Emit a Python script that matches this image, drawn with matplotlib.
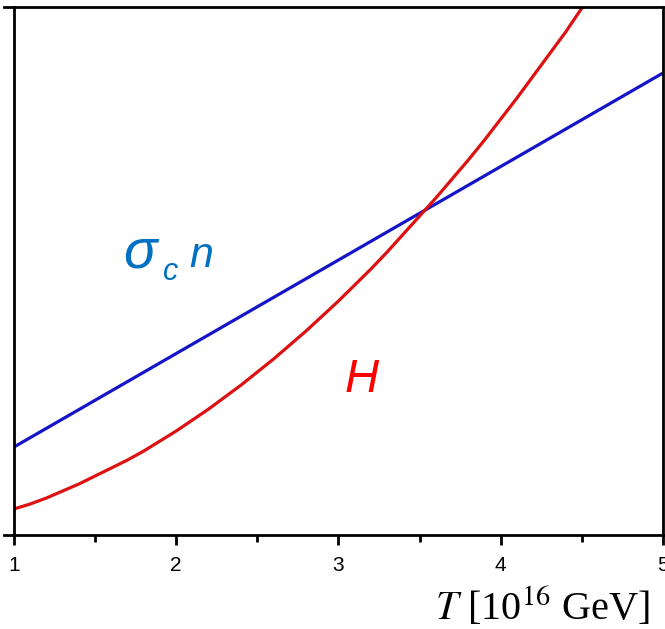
import numpy as np
import matplotlib
matplotlib.use("Agg")
import matplotlib.pyplot as plt
from matplotlib.lines import Line2D

plt.rcParams['mathtext.fontset'] = 'stix'
plt.rcParams['font.family'] = ['Liberation Sans', 'DejaVu Sans']
plt.rcParams['xtick.labelsize'] = 15

# values (arbitrary vertical units)
T = [1.0, 1.1, 1.2, 1.3, 1.4, 1.5, 1.6, 1.7, 1.8, 1.9,
     2.0, 2.1, 2.2, 2.3, 2.4, 2.5, 2.6, 2.7, 2.8, 2.9,
     3.0, 3.1, 3.2, 3.3, 3.4, 3.5, 3.6, 3.7, 3.8, 3.9,
     4.0, 4.1, 4.2, 4.3, 4.4, 4.5, 4.6]
H = [26, 31, 37, 44, 51, 59, 67, 75, 84, 94,
     104, 115, 126, 138, 150, 163, 176, 190, 204, 219,
     234, 250, 266, 283, 301, 319, 337, 356, 375, 395,
     416, 437, 459, 481, 503, 527, 550]
T_line = [1.0, 5.0]
sigma_n = [88, 462]
xticks = [1, 2, 3, 4, 5]

fig = plt.figure(figsize=(6.65, 6.29), dpi=100)
ax = fig.add_axes([14/665, 94/629, 649/665, 528/629])

ax.plot(T_line, sigma_n, color='#1414c8', lw=2.3)
ax.plot(T, H, color='#dd1111', lw=2.3)

ax.set_xlim(1, 5)
ax.set_ylim(0, 528)
ax.set_xticks(xticks)
ax.set_xticks([1.5, 2.5, 3.5, 4.5], minor=True)
ax.set_xticklabels([str(t) for t in xticks])
ax.tick_params(axis='x', which='major', direction='out', length=7, width=2, pad=8)
ax.tick_params(axis='x', which='minor', direction='out', length=5, width=2)
ax.set_yticks([])
for s in ax.spines.values():
    s.set_linewidth(2)

# frame lines run a little past the left spine
for yy in (0, 1):
    ax.add_line(Line2D([-0.016, 0], [yy, yy], transform=ax.transAxes, color='k',
                       lw=2, clip_on=False))

# labels on the curves
ax.text(1.67, 268, 'σ', color='#0070c0', fontsize=40, style='italic')
ax.text(1.92, 255, 'c', color='#0070c0', fontsize=22, style='italic')
ax.text(2.08, 268, 'n', color='#0070c0', fontsize=31, style='italic')
ax.text(3.04, 143, 'H', color='#ff0000', fontsize=34, style='italic')

fig.text(650/665, 9/629, r'$T$ [10$^{16}$ GeV]', ha='right', va='baseline',
         fontsize=29, family='Liberation Serif')

fig.savefig('out.png', dpi=100)
